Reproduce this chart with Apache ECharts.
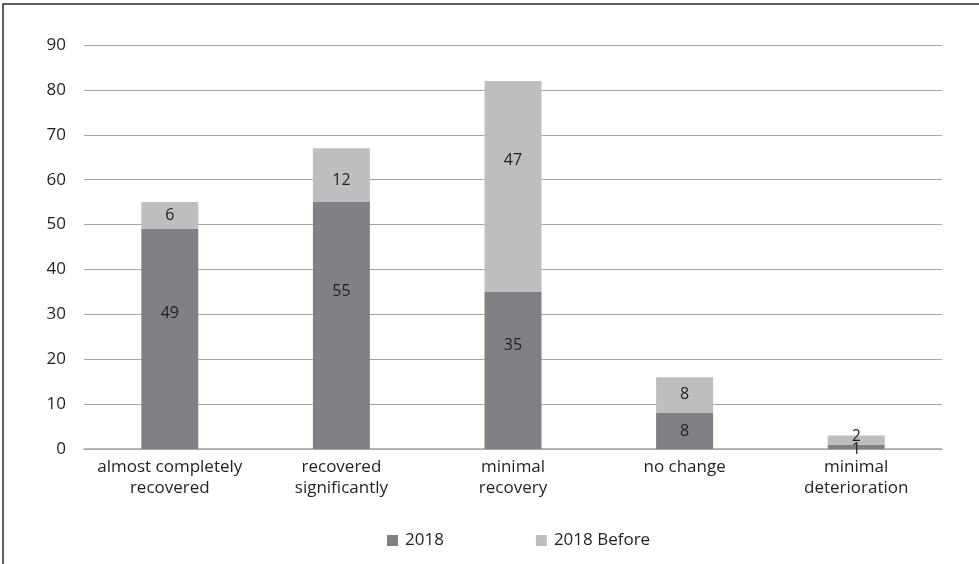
<!DOCTYPE html>
<html>
<head>
<meta charset="utf-8">
<style>
  html, body { margin: 0; padding: 0; background: #fff; }
  #chart { width: 979px; height: 564px; }
</style>
<script src="https://cdn.jsdelivr.net/npm/echarts@6/dist/echarts.min.js"></script>
</head>
<body>
<div id="chart"></div>
<script>
// Recovery outcome categories
const categories = [
  'almost completely\nrecovered',
  'recovered\nsignificantly',
  'minimal\nrecovery',
  'no change',
  'minimal\ndeterioration'
];
// Counts per outcome
const values2018 = [49, 55, 35, 8, 1];
const valuesBefore = [6, 12, 47, 8, 2];
const yTicks = { min: 0, max: 90, interval: 10 };

// Vertical nudges for the value labels (px)
const labelShift2018 = [-26, -34, -25, 0, 3];
const labelShiftBefore = [0, 5, -26, -1, -4];

const FONT = '"Open Sans", "Noto Sans", sans-serif';
const TEXT = '#231f20';

const chart = echarts.init(document.getElementById('chart'), null, { renderer: 'canvas' });

function labelled(values, shifts) {
  return values.map((v, i) => ({
    value: v,
    label: { offset: [0, shifts[i]] }
  }));
}

const labelStyle = {
  show: true,
  position: 'inside',
  color: TEXT,
  fontFamily: FONT,
  fontSize: 16
};

chart.setOption({
  animation: false,
  backgroundColor: '#ffffff',
  graphic: [{
    type: 'rect',
    shape: { x: 3, y: 4, width: 1200, height: 800 },
    style: { fill: 'none', stroke: '#2b2b2b', lineWidth: 1.5 },
    silent: true
  }],
  grid: { left: 84, right: 37, top: 45, bottom: 115 },
  legend: {
    left: 382,
    top: 527,
    itemWidth: 11,
    itemHeight: 11,
    itemGap: 92,
    icon: 'rect',
    textStyle: { color: TEXT, fontFamily: FONT, fontSize: 17, padding: [0, 0, 0, 2] },
    data: ['2018', '2018 Before']
  },
  xAxis: {
    type: 'category',
    data: categories,
    axisLine: { show: true, lineStyle: { color: '#a6a6a6', width: 1.5 } },
    axisTick: { show: false },
    axisLabel: {
      color: TEXT,
      fontFamily: FONT,
      fontSize: 17,
      lineHeight: 21,
      margin: 8,
      interval: 0
    }
  },
  yAxis: {
    type: 'value',
    min: yTicks.min,
    max: yTicks.max,
    interval: yTicks.interval,
    axisLine: { show: false },
    axisTick: { show: false },
    axisLabel: { color: TEXT, fontFamily: FONT, fontSize: 17, margin: 18 },
    splitLine: { lineStyle: { color: '#a6a6a6', width: 1 } }
  },
  series: [
    {
      name: '2018',
      type: 'bar',
      stack: 'total',
      barWidth: 57,
      data: labelled(values2018, labelShift2018),
      itemStyle: { color: '#808184' },
      label: labelStyle
    },
    {
      name: '2018 Before',
      type: 'bar',
      stack: 'total',
      barWidth: 57,
      data: labelled(valuesBefore, labelShiftBefore),
      itemStyle: { color: '#bcbec0' },
      label: labelStyle
    }
  ]
});
</script>
</body>
</html>
